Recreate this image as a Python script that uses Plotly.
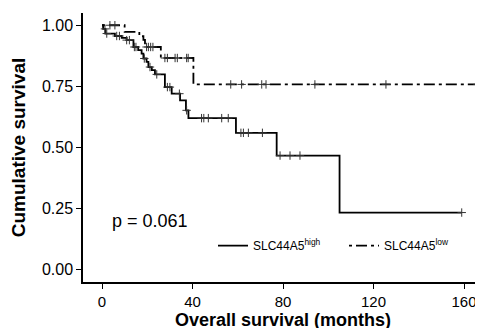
import plotly.graph_objects as go
import numpy as np

# ---- data ----
high_time = [0, 0.5, 1.5, 5.7, 8.7, 10.9, 13.9, 16, 17.5, 18.3, 19.7, 20.5, 22, 23.4,
             27.8, 30.8, 34.5, 37.1, 38.2, 59.2, 77.2, 105, 159]
high_surv = [1.0, 0.985, 0.966, 0.956, 0.948, 0.939, 0.911, 0.898, 0.884, 0.864, 0.85,
             0.829, 0.816, 0.799, 0.747, 0.72, 0.693, 0.652, 0.62, 0.56, 0.467, 0.234, 0.234]
high_censor = [1.3, 2.1, 6.5, 7.7, 10.9, 12.1, 14.3, 15, 18.7, 21.2, 24.2, 28.9, 30,
               34.2, 37.4, 44, 45, 47, 52.9, 55.8, 61.4, 62.5, 64.7, 70.9, 78.7, 83.1,
               87.5, 159]

low_time = [0, 10, 16.5, 18.3, 19, 26, 40.4, 166]
low_surv = [1.0, 0.973, 0.955, 0.94, 0.911, 0.866, 0.758, 0.758]
low_censor = [3.5, 5.7, 19.7, 20.5, 21.5, 22.5, 27.8, 28.9, 32.3, 33.3, 37.4, 38.1,
              56.9, 61.7, 70.6, 72.5, 94.1, 125.5, 166]

x_ticks = [0, 40, 80, 120, 160]
y_ticks = [0.0, 0.25, 0.5, 0.75, 1.0]
y_tick_labels = ["0.00", "0.25", "0.50", "0.75", "1.00"]
p_text = "p = 0.061"
x_title = "<b>Overall survival (months)</b>"
y_title = "<b>Cumulative survival</b>"
names = ["SLC44A5<sup>high</sup>", "SLC44A5<sup>low</sup>"]


def surv_at(times, survs, t):
    idx = np.searchsorted(times, t, side="right") - 1
    return [survs[i] for i in idx]


FONT = "Liberation Sans, Arial, sans-serif"
DASH = "3px,4px,11px,4px"

fig = go.Figure()
fig.add_trace(go.Scatter(x=high_time, y=high_surv, mode="lines", line_shape="hv",
                         line=dict(color="black", width=1.8), name=names[0],
                         legend="legend"))
fig.add_trace(go.Scatter(x=low_time, y=low_surv, mode="lines", line_shape="hv",
                         line=dict(color="black", width=1.8, dash=DASH), name=names[1],
                         legend="legend2"))
fig.add_trace(go.Scatter(x=high_censor, y=surv_at(high_time, high_surv, high_censor),
                         mode="markers", showlegend=False, hoverinfo="skip",
                         marker=dict(symbol="cross-thin", size=6,
                                     line=dict(color="#333", width=1))))
fig.add_trace(go.Scatter(x=low_censor, y=surv_at(low_time, low_surv, low_censor),
                         mode="markers", showlegend=False, hoverinfo="skip",
                         marker=dict(symbol="cross-thin", size=6,
                                     line=dict(color="#333", width=1))))

fig.add_annotation(x=3.5, y=0.2, xref="x", yref="y", text=p_text, showarrow=False,
                   xanchor="left", yanchor="middle",
                   font=dict(family=FONT, size=18, color="black"))
fig.add_annotation(x=0.5, y=0, xref="paper", yref="paper", text=x_title,
                   showarrow=False, xanchor="center", yanchor="top", yshift=-26,
                   font=dict(family=FONT, size=18, color="black"))

leg_common = dict(orientation="h", y=0.135, xanchor="left", yanchor="middle",
                  bgcolor="rgba(0,0,0,0)", font=dict(family=FONT, size=12),
                  itemwidth=30)

fig.update_layout(
    width=475, height=320,
    margin=dict(l=75, r=0, t=5, b=46),
    paper_bgcolor="white", plot_bgcolor="white",
    font=dict(family=FONT, color="black"),
    legend=dict(x=0.325, **leg_common),
    legend2=dict(x=0.6525, **leg_common),
    xaxis=dict(range=[-8.4, 168.4], tickvals=x_ticks, showgrid=False, zeroline=False,
               showline=True, linecolor="black", linewidth=1.5, ticks="outside",
               ticklen=5, tickwidth=1.2, tickcolor="black", automargin=False,
               tickfont=dict(family=FONT, size=15, color="black")),
    yaxis=dict(range=[-0.05, 1.05], tickvals=y_ticks, ticktext=y_tick_labels,
               showgrid=False, zeroline=False, showline=True, linecolor="black",
               linewidth=1.5, ticks="outside", ticklen=5, tickwidth=1.2,
               tickcolor="black", tickfont=dict(family=FONT, size=16, color="black"),
               title=dict(text=y_title, standoff=11,
                          font=dict(family=FONT, size=19, color="black"))),
)

fig.write_html("out.html")
